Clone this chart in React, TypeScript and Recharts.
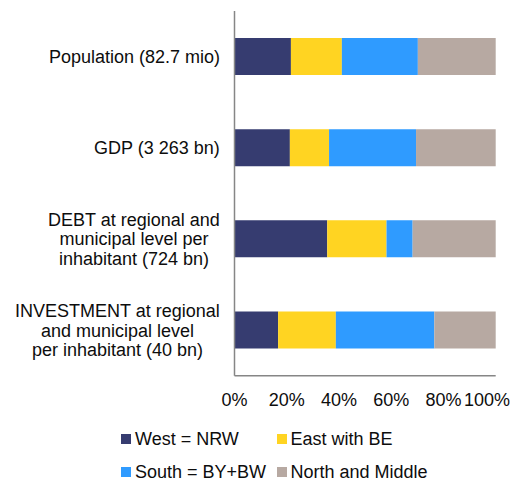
import React from "react";
import { BarChart, Bar, XAxis, YAxis, Legend } from "recharts";

const categories = [
  "Population (82.7 mio)",
  "GDP (3 263 bn)",
  "DEBT at regional and\nmunicipal level per\ninhabitant (724 bn)",
  "INVESTMENT at regional\nand municipal level\nper inhabitant (40 bn)",
];
const west = [21.6, 21.2, 35.5, 16.7];
const east = [19.5, 15.0, 22.7, 22.1];
const south = [29.1, 33.3, 10.0, 37.7];
const north = [29.8, 30.5, 31.8, 23.5];
const xTicks = [0, 20, 40, 60, 80, 100];

const seriesNames = ["West = NRW", "East with BE", "South = BY+BW", "North and Middle"];
const seriesKeys = ["west", "east", "south", "north"];
const colors = ["#363C70", "#FFD422", "#2F9BFF", "#B7A9A2"];

const data = categories.map((c, i) => ({
  name: c,
  west: west[i],
  east: east[i],
  south: south[i],
  north: north[i],
}));

const FONT = "'Liberation Sans', Arial, sans-serif";
const TEXT = "#0d0d0d";
const CHART_W = 502;

let ctx: CanvasRenderingContext2D | null = null;
function measure(s: string): number {
  if (!ctx) {
    const c = document.createElement("canvas");
    ctx = c.getContext("2d");
  }
  if (!ctx) return s.length * 9;
  ctx.font = `18px ${FONT}`;
  return ctx.measureText(s).width;
}

const YTick = (props: any) => {
  const { x, y, payload } = props;
  const lines: string[] = String(payload.value).split("\n");
  const widths = lines.map(measure);
  const block = Math.max(...widths);
  const cx = x - block / 2;
  const lh = 19.7;
  const n = lines.length;
  return (
    <g>
      {lines.map((l, i) => (
        <text
          key={i}
          x={cx}
          y={y + (i - (n - 1) / 2) * lh + 6.4}
          textAnchor="middle"
          fontFamily={FONT}
          fontSize={18}
          fill={TEXT}
        >
          {l}
        </text>
      ))}
    </g>
  );
};

const XTick = (props: any) => {
  const { x, y, payload } = props;
  const label = `${payload.value}%`;
  const w = measure(label);
  const cx = Math.min(x, CHART_W - w / 2);
  return (
    <text
      x={cx}
      y={y + 12.8}
      textAnchor="middle"
      fontFamily={FONT}
      fontSize={18}
      fill={TEXT}
    >
      {label}
    </text>
  );
};

const LegendContent = () => (
  <div
    style={{
      display: "grid",
      gridTemplateColumns: "155.5px auto",
      gridAutoRows: "18px",
      rowGap: "14.7px",
      fontFamily: FONT,
      fontSize: 18,
      lineHeight: "18px",
      color: TEXT,
    }}
  >
    {seriesNames.map((n, i) => (
      <div key={n} style={{ display: "flex", alignItems: "center", whiteSpace: "nowrap" }}>
        <span
          style={{
            display: "inline-block",
            width: 10,
            height: 10,
            background: colors[i],
            marginRight: 4,
          }}
        />
        <span>{n}</span>
      </div>
    ))}
  </div>
);

export default function App() {
  return (
    <BarChart
      width={CHART_W}
      height={473}
      data={data}
      layout="vertical"
      margin={{ top: 3, right: 14.3, left: 0, bottom: 75.3 }}
    >
      <XAxis
        type="number"
        domain={[0, 100]}
        ticks={xTicks}
        tickLine={false}
        axisLine={{ stroke: "#868686", strokeWidth: 1.5 }}
        tickSize={6}
        tickMargin={11}
        height={30}
        tick={<XTick />}
        interval={0}
      />
      <YAxis
        type="category"
        dataKey="name"
        width={226.5}
        tickLine={false}
        axisLine={{ stroke: "#868686", strokeWidth: 1.5 }}
        tickSize={6}
        tickMargin={8.5}
        tick={<YTick />}
        interval={0}
      />
      <Legend
        layout="horizontal"
        verticalAlign="middle"
        align="center"
        content={<LegendContent />}
        wrapperStyle={{ left: 113, top: 422.3, width: 330, height: 50.7 }}
      />
      {seriesKeys.map((k, i) => (
        <Bar
          key={k}
          dataKey={k}
          name={seriesNames[i]}
          stackId="a"
          fill={colors[i]}
          barSize={37}
          isAnimationActive={false}
        />
      ))}
    </BarChart>
  );
}
